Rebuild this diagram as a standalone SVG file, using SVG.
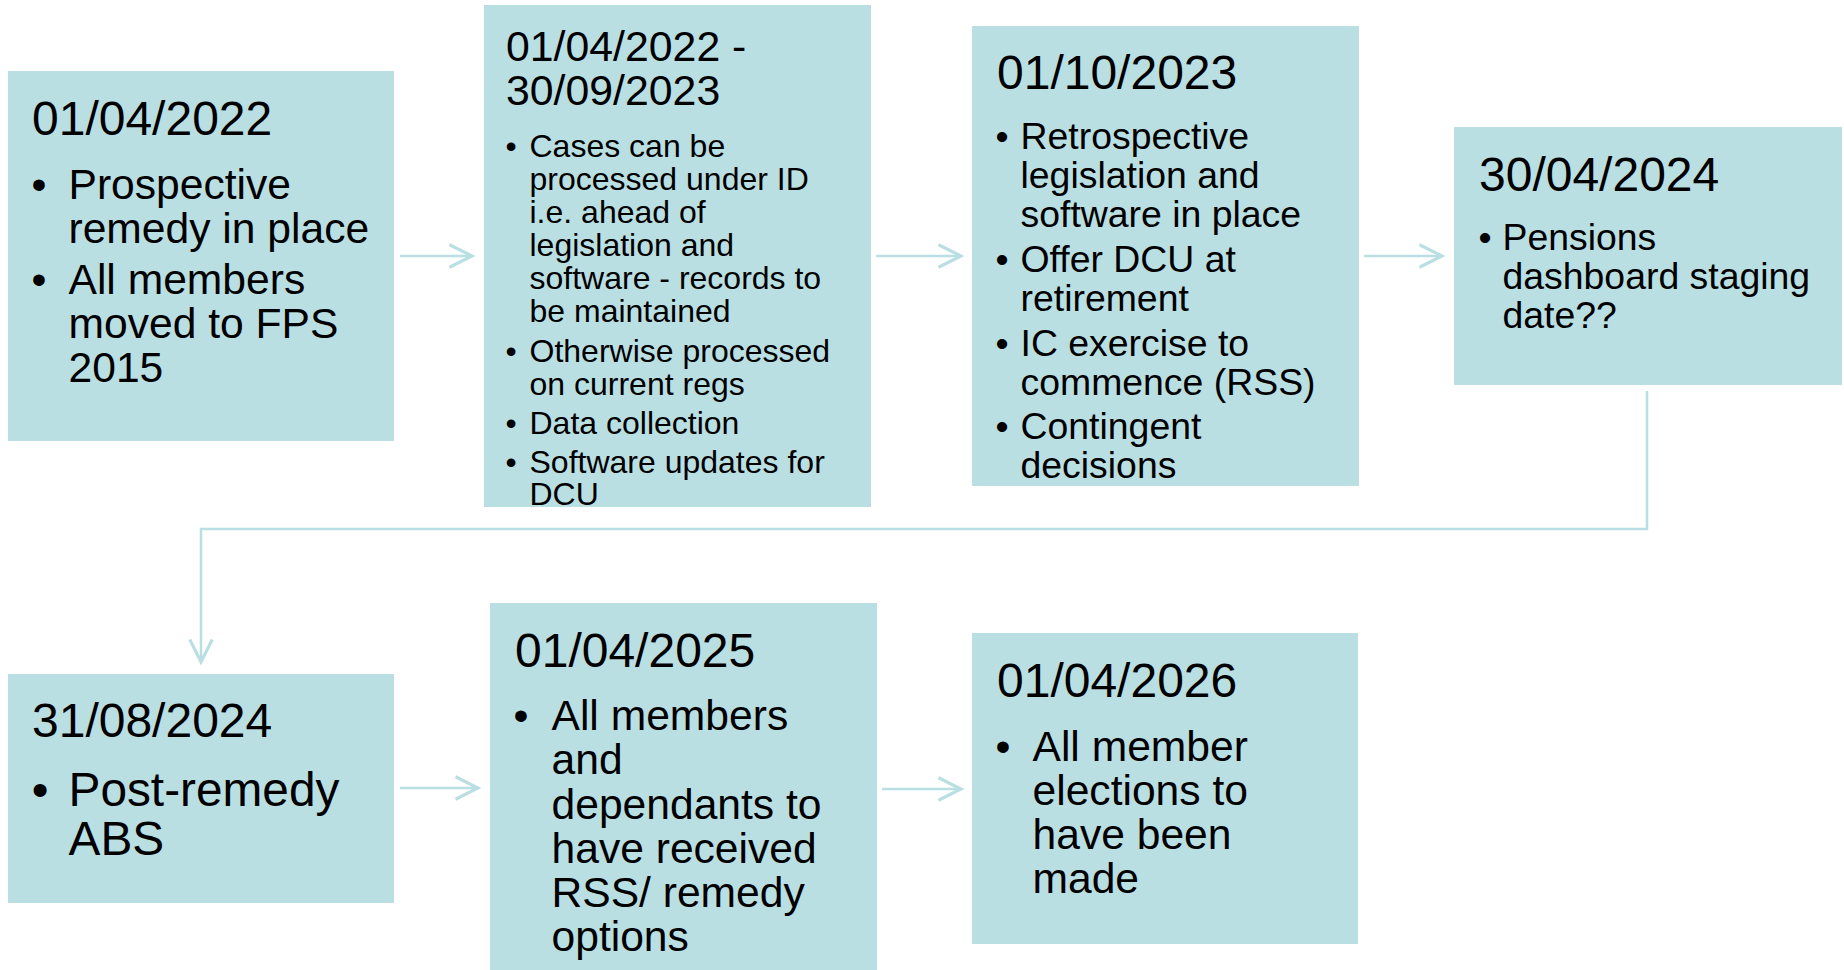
<svg xmlns="http://www.w3.org/2000/svg" width="1844" height="970" viewBox="0 0 1844 970">
<style>
  .box { fill: #badfe3; }
  text { font-family: "Liberation Sans", Arial, sans-serif; fill: #000; }
  .t47 { font-size: 48px; }
  .t42 { font-size: 42.8px; }
  .b42 { font-size: 42.6px; }
  .b32 { font-size: 32px; }
  .b37 { font-size: 37.4px; }
  .b47 { font-size: 47.8px; }
  .dot { text-anchor: middle; }
  .conn { fill: none; stroke: #badfe3; stroke-width: 2.5; }
</style>
<defs>
  <marker id="arrow" markerUnits="userSpaceOnUse" markerWidth="30" markerHeight="30" viewBox="-20 -12 24 24" refX="0" refY="0" orient="auto">
    <path d="M-18,-9 L0,0 L-18,9" fill="none" stroke="#badfe3" stroke-width="2.5"/>
  </marker>
</defs>

<g id="connectors">
  <line class="conn" x1="400" y1="256" x2="472" y2="256" marker-end="url(#arrow)"/>
  <line class="conn" x1="876" y1="256" x2="961" y2="256" marker-end="url(#arrow)"/>
  <line class="conn" x1="1364" y1="256" x2="1442" y2="256" marker-end="url(#arrow)"/>
  <polyline class="conn" points="1647,391 1647,529 201,529 201,662" marker-end="url(#arrow)"/>
  <line class="conn" x1="400" y1="788" x2="478" y2="788" marker-end="url(#arrow)"/>
  <line class="conn" x1="882" y1="789" x2="961" y2="789" marker-end="url(#arrow)"/>
</g>

<g id="node1">
  <rect class="box" x="8" y="71" width="386" height="370"/>
  <text class="t47" x="32" y="135">01/04/2022</text>
  <text class="b42 dot" x="39" y="199">•</text>
  <text class="b42" x="68.5" y="199">Prospective</text>
  <text class="b42" x="68.5" y="243">remedy in place</text>
  <text class="b42 dot" x="39" y="294">•</text>
  <text class="b42" x="68.5" y="294">All members</text>
  <text class="b42" x="68.5" y="338">moved to FPS</text>
  <text class="b42" x="68.5" y="382">2015</text>
</g>

<g id="node2">
  <rect class="box" x="484" y="5" width="387" height="502"/>
  <text class="t42" x="506" y="61">01/04/2022 -</text>
  <text class="t42" x="506" y="105">30/09/2023</text>
  <text class="b32 dot" x="511" y="157">•</text>
  <text class="b32" x="529.5" y="157">Cases can be</text>
  <text class="b32" x="529.5" y="190">processed under ID</text>
  <text class="b32" x="529.5" y="223">i.e. ahead of</text>
  <text class="b32" x="529.5" y="256">legislation and</text>
  <text class="b32" x="529.5" y="289">software - records to</text>
  <text class="b32" x="529.5" y="322">be maintained</text>
  <text class="b32 dot" x="511" y="362">•</text>
  <text class="b32" x="529.5" y="362">Otherwise processed</text>
  <text class="b32" x="529.5" y="395">on current regs</text>
  <text class="b32 dot" x="511" y="434">•</text>
  <text class="b32" x="529.5" y="434">Data collection</text>
  <text class="b32 dot" x="511" y="473">•</text>
  <text class="b32" x="529.5" y="473">Software updates for</text>
  <text class="b32" x="529.5" y="505">DCU</text>
</g>

<g id="node3">
  <rect class="box" x="972" y="26" width="387" height="460"/>
  <text class="t47" x="997" y="89">01/10/2023</text>
  <text class="b37 dot" x="1002" y="149">•</text>
  <text class="b37" x="1020.5" y="149">Retrospective</text>
  <text class="b37" x="1020.5" y="188">legislation and</text>
  <text class="b37" x="1020.5" y="227">software in place</text>
  <text class="b37 dot" x="1002" y="272">•</text>
  <text class="b37" x="1020.5" y="272">Offer DCU at</text>
  <text class="b37" x="1020.5" y="311">retirement</text>
  <text class="b37 dot" x="1002" y="356">•</text>
  <text class="b37" x="1020.5" y="356">IC exercise to</text>
  <text class="b37" x="1020.5" y="395">commence (RSS)</text>
  <text class="b37 dot" x="1002" y="439">•</text>
  <text class="b37" x="1020.5" y="439">Contingent</text>
  <text class="b37" x="1020.5" y="478">decisions</text>
</g>

<g id="node4">
  <rect class="box" x="1454" y="127" width="388" height="258"/>
  <text class="t47" x="1479" y="191">30/04/2024</text>
  <text class="b37 dot" x="1485" y="250">•</text>
  <text class="b37" x="1502.5" y="250">Pensions</text>
  <text class="b37" x="1502.5" y="289">dashboard staging</text>
  <text class="b37" x="1502.5" y="328">date??</text>
</g>

<g id="node5">
  <rect class="box" x="8" y="674" width="386" height="229"/>
  <text class="t47" x="32" y="737">31/08/2024</text>
  <text class="b47 dot" x="40" y="806">•</text>
  <text class="b47" x="68.5" y="806">Post-remedy</text>
  <text class="b47" x="68.5" y="855">ABS</text>
</g>

<g id="node6">
  <rect class="box" x="490" y="603" width="387" height="367"/>
  <text class="t47" x="515" y="667">01/04/2025</text>
  <text class="b42 dot" x="521" y="730">•</text>
  <text class="b42" x="551.5" y="730">All members</text>
  <text class="b42" x="551.5" y="774">and</text>
  <text class="b42" x="551.5" y="819">dependants to</text>
  <text class="b42" x="551.5" y="863">have received</text>
  <text class="b42" x="551.5" y="907">RSS/ remedy</text>
  <text class="b42" x="551.5" y="951">options</text>
</g>

<g id="node7">
  <rect class="box" x="972" y="633" width="386" height="311"/>
  <text class="t47" x="997" y="697">01/04/2026</text>
  <text class="b42 dot" x="1003" y="761">•</text>
  <text class="b42" x="1032.5" y="761">All member</text>
  <text class="b42" x="1032.5" y="805">elections to</text>
  <text class="b42" x="1032.5" y="849">have been</text>
  <text class="b42" x="1032.5" y="893">made</text>
</g>
</svg>
